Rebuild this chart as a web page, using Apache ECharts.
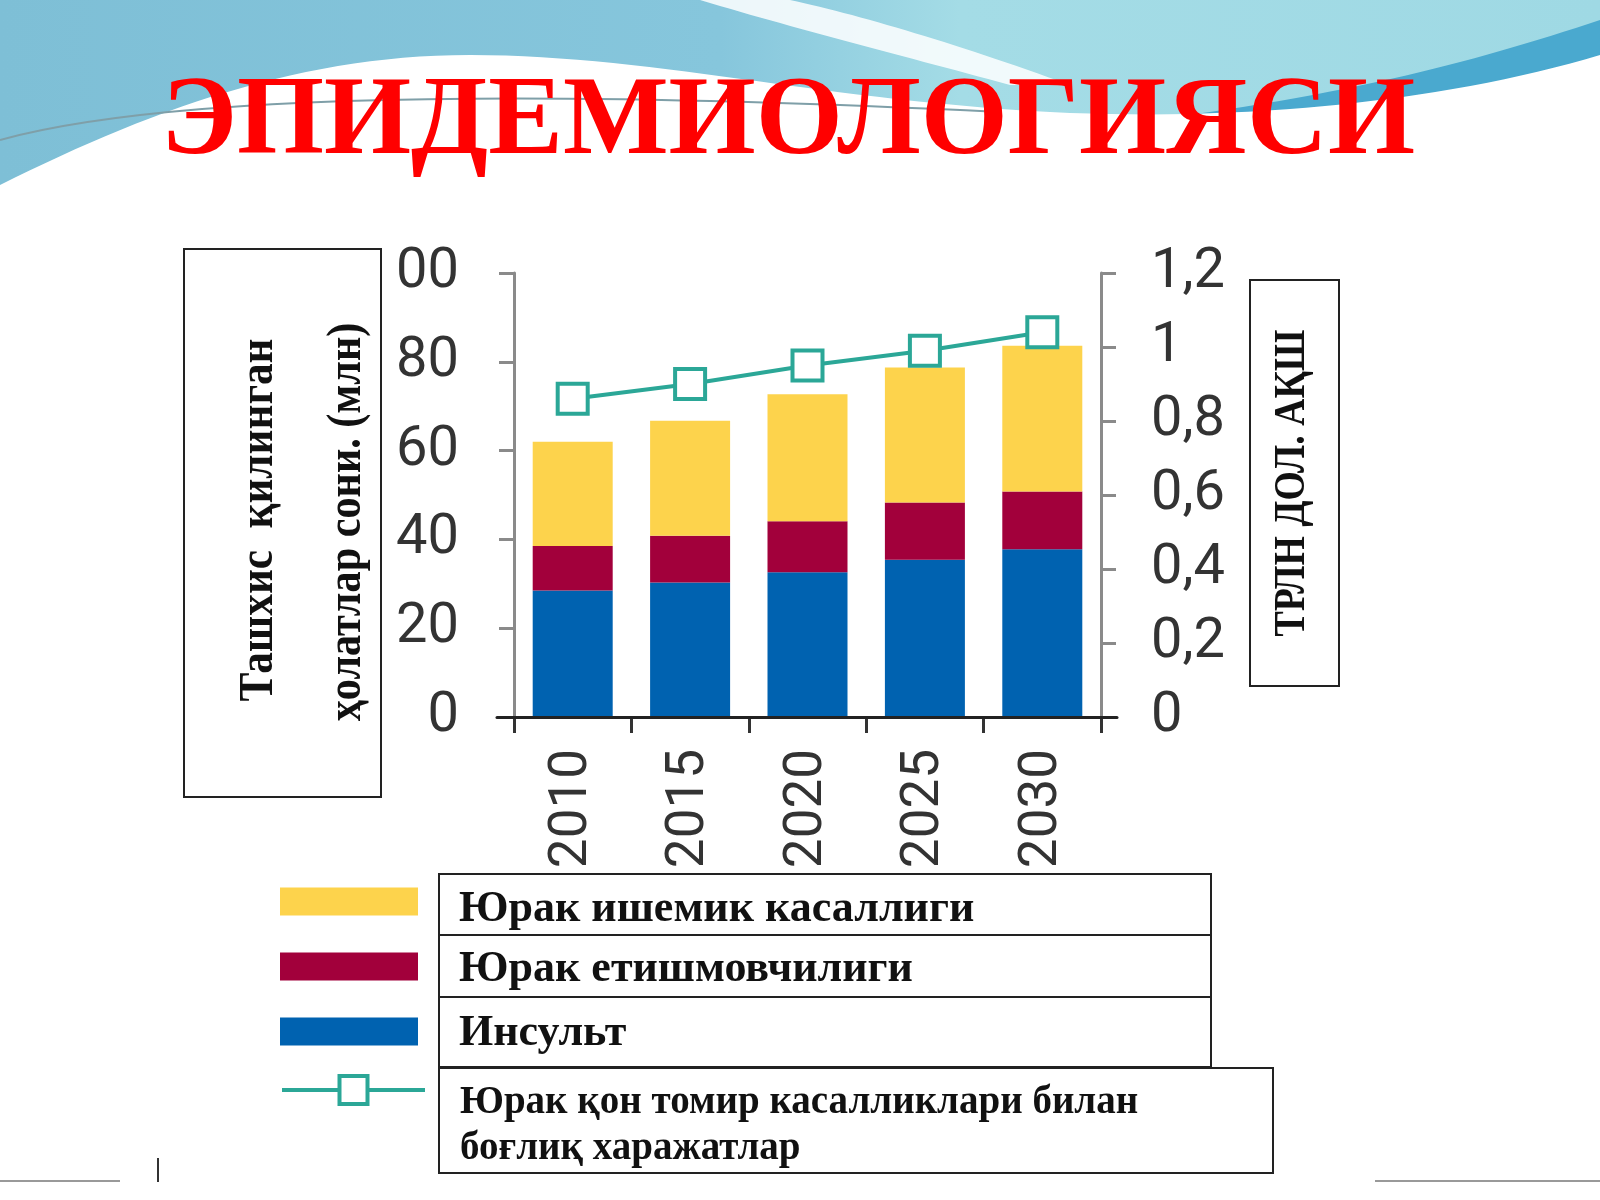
<!DOCTYPE html>
<html>
<head>
<meta charset="utf-8">
<script src="https://cdn.jsdelivr.net/npm/echarts@6/dist/echarts.min.js"></script>
<style>
html, body { margin: 0; padding: 0; background: #fff; }
#main { width: 1600px; height: 1200px; }
</style>
</head>
<body>
<div id="main"></div>
<script>
var years = ['2010', '2015', '2020', '2025', '2030'];
var strokeData = [28.5, 30.3, 32.6, 35.4, 37.8];     // Инсульт
var failureData = [10.0, 10.5, 11.5, 12.9, 13.0];    // Юрак етишмовчилиги
var ischemicData = [23.5, 25.9, 28.6, 30.4, 32.8];   // Юрак ишемик касаллиги
var costData = [0.86, 0.90, 0.95, 0.99, 1.04];       // харажатлар
var leftTickLabels = ['0', '20', '40', '60', '80', '00'];
var rightTickLabels = ['0', '0,2', '0,4', '0,6', '0,8', '1', '1,2'];
var seriesNames = ['Юрак ишемик касаллиги', 'Юрак етишмовчилиги', 'Инсульт',
    'Юрак қон томир касалликлари билан боғлиқ харажатлар'];

var serif = '"Liberation Serif", "DejaVu Serif", serif';
var teal = '#2ba797';

window.onload = function () {
    showChart();
};

// sample a cubic bezier into points (slide decoration only)
function curve(p0, p1, p2, p3) {
    var pts = [];
    for (var i = 0; i <= 30; i++) {
        var t = i / 30, u = 1 - t;
        pts.push([
            u * u * u * p0[0] + 3 * u * u * t * p1[0] + 3 * u * t * t * p2[0] + t * t * t * p3[0],
            u * u * u * p0[1] + 3 * u * u * t * p1[1] + 3 * u * t * t * p2[1] + t * t * t * p3[1]
        ]);
    }
    return pts;
}

// one legend per row, text nudged down by a blank rich line of height `gap`
function legendBox(name, top, gap) {
    return {
        data: [name],
        left: 280,
        top: top,
        orient: 'vertical',
        padding: 0,
        selectedMode: false,
        icon: 'rect',
        itemWidth: 138,
        itemHeight: 28,
        formatter: function (n) { return '{g| }\n{t|' + n + '}'; },
        textStyle: {
            color: '#111',
            padding: [0, 0, 0, 36],
            rich: {
                g: { fontSize: 4, lineHeight: gap },
                t: { fontFamily: serif, fontWeight: 'bold', fontSize: 44, lineHeight: 40, color: '#111' }
            }
        }
    };
}

function showChart() {
    var myChart = echarts.init(document.getElementById('main'));

    var whiteWave = curve([0, 185], [150, 110], [300, 55], [470, 55])
        .concat(curve([470, 55], [650, 55], [820, 100], [1050, 112]))
        .concat(curve([1050, 112], [1250, 122], [1450, 100], [1600, 55]))
        .concat([[1600, 300], [0, 300]]);
    var streak = curve([700, 0], [800, 30], [900, 55], [1010, 85])
        .concat(curve([1070, 85], [960, 45], [860, 15], [790, 0]));
    var band = curve([1150, 120], [1350, 95], [1480, 60], [1600, 20])
        .concat(curve([1600, 60], [1480, 95], [1350, 120], [1150, 130]));

    var option = {
        animation: false,
        backgroundColor: '#fff',
        graphic: [
            // slide background
            {
                type: 'rect', z: -10, silent: true,
                shape: { x: 0, y: 0, width: 1600, height: 260 },
                style: {
                    fill: new echarts.graphic.LinearGradient(0, 0, 1, 0, [
                        { offset: 0, color: '#7ebfd6' },
                        { offset: 0.45, color: '#86c6dc' },
                        { offset: 0.6, color: '#a4dce6' },
                        { offset: 1, color: '#9fd9e4' }
                    ])
                }
            },
            { type: 'polygon', z: -9, silent: true, shape: { points: streak }, style: { fill: 'rgba(255,255,255,0.85)' } },
            { type: 'polygon', z: -9, silent: true, shape: { points: band }, style: { fill: '#4aa9cf' } },
            { type: 'polygon', z: -8, silent: true, shape: { points: whiteWave }, style: { fill: '#fff' } },
            {
                type: 'bezierCurve', z: -7, silent: true,
                shape: { x1: 0, y1: 140, cpx1: 200, cpy1: 85, cpx2: 650, cpy2: 95, x2: 1000, y2: 112 },
                style: { fill: 'none', stroke: '#7f9fa8', lineWidth: 2 }
            },
            // bottom marks
            { type: 'line', silent: true, shape: { x1: 158, y1: 1158, x2: 158, y2: 1182 }, style: { stroke: '#333', lineWidth: 2 } },
            { type: 'line', silent: true, shape: { x1: 0, y1: 1181, x2: 120, y2: 1181 }, style: { stroke: '#999', lineWidth: 2 } },
            { type: 'line', silent: true, shape: { x1: 1375, y1: 1181, x2: 1600, y2: 1181 }, style: { stroke: '#999', lineWidth: 2 } },
            // title
            {
                type: 'text', x: 788, y: 124,
                style: {
                    text: 'ЭПИДЕМИОЛОГИЯСИ',
                    font: 'bold 112px ' + serif,
                    fill: '#ff0000',
                    textAlign: 'center',
                    textVerticalAlign: 'middle'
                }
            },
            // left axis title box
            {
                type: 'rect',
                shape: { x: 184, y: 249, width: 197, height: 548 },
                style: { fill: '#fff', stroke: '#222', lineWidth: 2 }
            },
            {
                type: 'text', x: 260, y: 520, rotation: Math.PI / 2, scaleX: 0.9,
                style: {
                    text: 'Ташхис  қилинган',
                    font: 'bold 48px ' + serif, fill: '#111',
                    textAlign: 'center', textVerticalAlign: 'middle'
                }
            },
            {
                type: 'text', x: 348, y: 522, rotation: Math.PI / 2, scaleX: 0.88,
                style: {
                    text: 'ҳолатлар сони. (млн)',
                    font: 'bold 48px ' + serif, fill: '#111',
                    textAlign: 'center', textVerticalAlign: 'middle'
                }
            },
            // right axis title box
            {
                type: 'rect',
                shape: { x: 1250, y: 280, width: 89, height: 406 },
                style: { fill: '#fff', stroke: '#222', lineWidth: 2 }
            },
            {
                type: 'text', x: 1293, y: 483, rotation: Math.PI / 2, scaleX: 0.86,
                style: {
                    text: 'ТРЛН ДОЛ. АҚШ',
                    font: 'bold 44px ' + serif, fill: '#111',
                    textAlign: 'center', textVerticalAlign: 'middle'
                }
            },
            // legend table frames
            { type: 'rect', shape: { x: 439, y: 874, width: 772, height: 61 }, style: { fill: 'none', stroke: '#222', lineWidth: 2 } },
            { type: 'rect', shape: { x: 439, y: 935, width: 772, height: 62 }, style: { fill: 'none', stroke: '#222', lineWidth: 2 } },
            { type: 'rect', shape: { x: 439, y: 997, width: 772, height: 70 }, style: { fill: 'none', stroke: '#222', lineWidth: 2 } },
            { type: 'rect', shape: { x: 439, y: 1068, width: 834, height: 105 }, style: { fill: 'none', stroke: '#222', lineWidth: 2 } }
        ],
        legend: [
            legendBox(seriesNames[0], 879.5, 17),
            legendBox(seriesNames[1], 944.5, 7),
            legendBox(seriesNames[2], 1009.5, 5),
            {
                data: [seriesNames[3]],
                left: 280,
                top: 1042,
                padding: 0,
                selectedMode: false,
                itemWidth: 143,
                itemHeight: 35,
                lineStyle: { color: teal, width: 4 },
                itemStyle: { color: '#fff', borderColor: teal, borderWidth: 4 },
                formatter: function () {
                    return '{g| }\n{t|Юрак қон томир касалликлари билан}\n{t|боғлиқ харажатлар}';
                },
                textStyle: {
                    color: '#111',
                    padding: [0, 0, 0, 30],
                    rich: {
                        g: { fontSize: 4, lineHeight: 72 },
                        t: { fontFamily: serif, fontWeight: 'bold', fontSize: 39, lineHeight: 46, color: '#111' }
                    }
                }
            }
        ],
        grid: [
            { left: 514, top: 273, width: 587, height: 444 },
            { left: 497, top: 273, width: 620, height: 444 }
        ],
        xAxis: [
            {
                type: 'category',
                gridIndex: 0,
                data: years,
                axisLine: { show: false },
                axisTick: { show: true, length: 16, lineStyle: { color: '#333', width: 3 } },
                axisLabel: {
                    rotate: 90,
                    margin: 32,
                    fontFamily: 'Roboto',
                    fontSize: 53,
                    color: '#333'
                }
            },
            {
                type: 'category',
                gridIndex: 1,
                data: years,
                z: 5,
                axisLine: { show: true, lineStyle: { color: '#222', width: 3 } },
                axisTick: { show: false },
                axisLabel: { show: false }
            }
        ],
        yAxis: [
            {
                type: 'value',
                gridIndex: 0,
                position: 'left',
                min: 0,
                max: 100,
                interval: 20,
                splitLine: { show: false },
                axisLine: { show: true, lineStyle: { color: '#8a8a8a', width: 3 } },
                axisTick: { show: true, length: 15, lineStyle: { color: '#8a8a8a', width: 3 } },
                axisLabel: {
                    margin: 55,
                    fontFamily: 'Roboto',
                    fontSize: 56,
                    color: '#333',
                    formatter: function (v, i) { return leftTickLabels[i]; }
                }
            },
            {
                type: 'value',
                gridIndex: 0,
                position: 'right',
                min: 0,
                max: 1.2,
                interval: 0.2,
                splitLine: { show: false },
                axisLine: { show: true, lineStyle: { color: '#8a8a8a', width: 3 } },
                axisTick: { show: true, length: 15, lineStyle: { color: '#8a8a8a', width: 3 } },
                axisLabel: {
                    margin: 50,
                    fontFamily: 'Roboto',
                    fontSize: 56,
                    color: '#333',
                    formatter: function (v, i) { return rightTickLabels[i]; }
                }
            },
            { type: 'value', gridIndex: 1, min: 0, max: 100, show: false }
        ],
        series: [
            {
                name: seriesNames[2], type: 'bar', stack: 'cases',
                xAxisIndex: 0, yAxisIndex: 0, barWidth: 80,
                itemStyle: { color: '#0062b0' },
                data: strokeData
            },
            {
                name: seriesNames[1], type: 'bar', stack: 'cases',
                xAxisIndex: 0, yAxisIndex: 0, barWidth: 80,
                itemStyle: { color: '#a2003b' },
                data: failureData
            },
            {
                name: seriesNames[0], type: 'bar', stack: 'cases',
                xAxisIndex: 0, yAxisIndex: 0, barWidth: 80,
                itemStyle: { color: '#fdd34c' },
                data: ischemicData
            },
            {
                name: seriesNames[3], type: 'line',
                xAxisIndex: 0, yAxisIndex: 1, z: 6,
                symbol: 'rect', symbolSize: 30,
                lineStyle: { color: teal, width: 4 },
                itemStyle: { color: '#fff', borderColor: teal, borderWidth: 4 },
                data: costData
            }
        ]
    };

    myChart.setOption(option);
}
</script>
</body>
</html>
